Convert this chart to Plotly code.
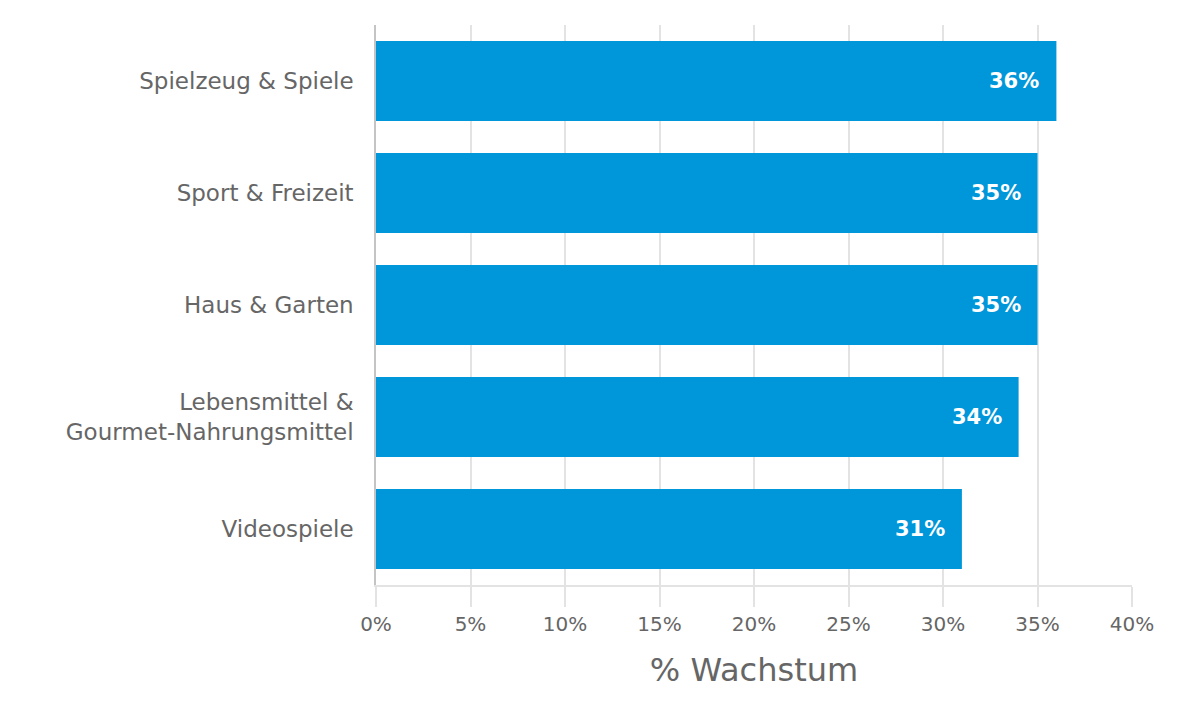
import plotly.graph_objects as go

categories = ["Spielzeug & Spiele", "Sport & Freizeit", "Haus & Garten",
              "Lebensmittel &<br>Gourmet-Nahrungsmittel", "Videospiele"]
values = [36, 35, 35, 34, 31]
labels = ["36%", "35%", "35%", "34%", "31%"]
tick_vals = [0, 5, 10, 15, 20, 25, 30, 35, 40]
tick_text = ["0%", "5%", "10%", "15%", "20%", "25%", "30%", "35%", "40%"]

FONT = "DejaVu Sans"
fig = go.Figure()
fig.add_trace(go.Bar(
    y=categories, x=values, orientation="h",
    marker=dict(color="#0096DA", line=dict(width=0)),
    hoverinfo="skip",
))
for c, v, t in zip(categories, values, labels):
    fig.add_annotation(x=v, y=c, text="<b>" + t + "</b>", showarrow=False,
                       xanchor="right", xshift=-15,
                       font=dict(family=FONT, size=21, color="white"))

fig.update_layout(
    width=1190, height=708,
    margin=dict(l=368, r=66, t=17, b=131),
    plot_bgcolor="white", paper_bgcolor="white",
    bargap=0.286, showlegend=False,
    font=dict(family=FONT, color="#666666"),
    xaxis=dict(range=[0, 40], tickvals=tick_vals, ticktext=tick_text,
               showgrid=True, gridcolor="#e3e3e3", gridwidth=1.5,
               zeroline=False, showline=True, linecolor="#e3e3e3", linewidth=1.5,
               ticks="outside", ticklen=20, tickcolor="#e3e3e3", tickwidth=1.5,
               tickfont=dict(family=FONT, size=20, color="#666666"),
               title=dict(text="% Wachstum", standoff=24,
                          font=dict(family=FONT, size=32, color="#666666"))),
    yaxis=dict(autorange="reversed", showgrid=False, zeroline=False,
               showline=True, linecolor="#c4c4c4", linewidth=1.5,
               ticks="", ticklabelstandoff=16,
               tickfont=dict(family=FONT, size=23, color="#666666")),
)
fig.write_html("out.html")
